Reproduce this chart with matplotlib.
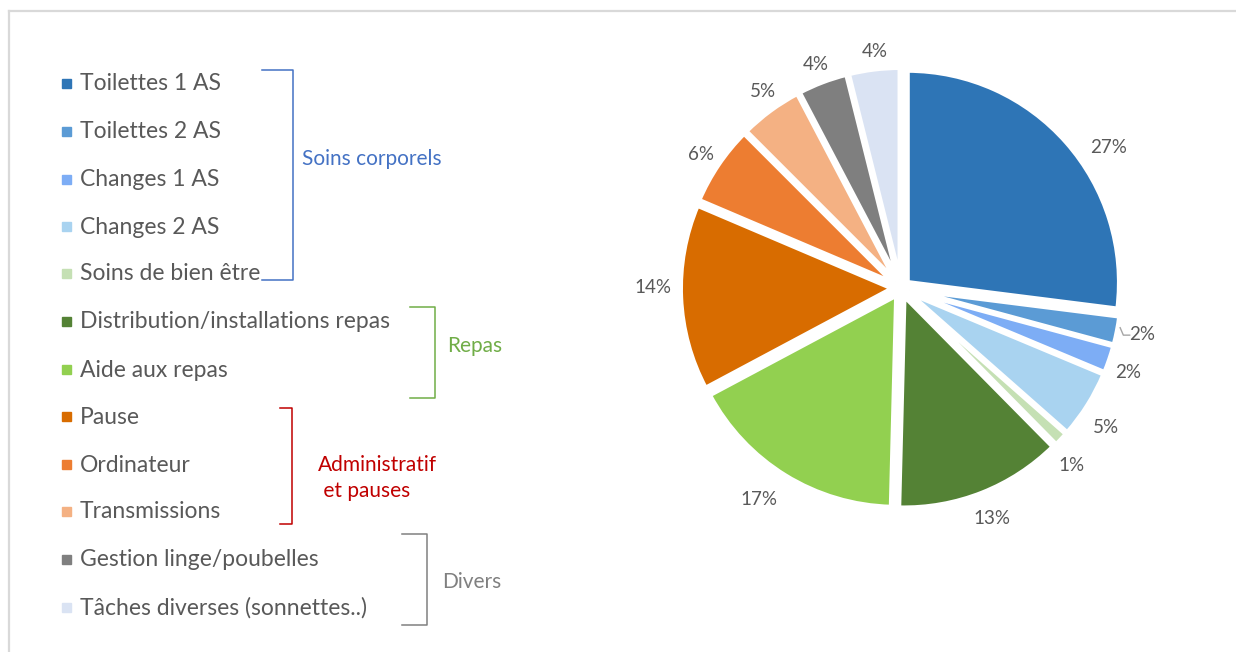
import numpy as np
import matplotlib
matplotlib.use("Agg")
import matplotlib.pyplot as plt
from matplotlib.lines import Line2D

plt.rcParams['font.family'] = ['Lato', 'DejaVu Sans']

# Data
categories = ["Toilettes 1 AS", "Toilettes 2 AS", "Changes 1 AS", "Changes 2 AS",
              "Soins de bien être", "Distribution/installations repas", "Aide aux repas",
              "Pause", "Ordinateur", "Transmissions", "Gestion linge/poubelles",
              "Tâches diverses (sonnettes..)"]
values = [27.0, 2.2, 2.1, 5.2, 1.1, 12.8, 16.8, 14.2, 6.1, 4.8, 3.8, 3.9]
colors = ["#2E75B6", "#5B9BD5", "#7DADF5", "#A9D3F0", "#C5E0B4", "#548235",
          "#92D050", "#D86C00", "#ED7D31", "#F4B183", "#7F7F7F", "#DAE3F3"]

groups = ["Soins corporels", "Repas", "Administratif\n et pauses", "Divers"]
group_colors = ["#4472C4", "#70AD47", "#C00000", "#808080"]

W, H = 1236, 652
fig = plt.figure(figsize=(W / 100, H / 100), dpi=100)

def fx(x):
    return x / W

def fy(y):
    return 1 - y / H

# light frame
fig.add_artist(Line2D([fx(9), fx(9)], [fy(11), fy(652)], color="#D9D9D9", lw=1.6))
fig.add_artist(Line2D([fx(9), fx(1236)], [fy(11), fy(11)], color="#D9D9D9", lw=1.6))

# Pie
cx, cy, half, rad = 901, 288, 265, 220
ax = fig.add_axes([fx(cx - half), fy(cy + half), 2 * half / W, 2 * half / H])
lim = half / rad
ax.set_xlim(-lim, lim)
ax.set_ylim(-lim, lim)
ax.set_aspect("equal")
ax.axis("off")

exp = 0.04
wedges, _ = ax.pie(values, colors=colors, startangle=90, counterclock=False,
                   explode=[exp] * len(values), radius=1,
                   wedgeprops=dict(edgecolor="white", linewidth=3.5))

# small nudges (pixels) to match where the labels sit
nudge = {0: (22, -24), 1: (-2, 2), 2: (-8, -4), 3: (-5, -8), 4: (-10, -7),
         6: (-12, 0), 7: (0, 12), 8: (6, -5), 9: (9, -3), 10: (3, -9), 11: (4, -10)}
total = sum(values)
cum = 0
for i, v in enumerate(values):
    mid = 90 - (cum + v / 2) / total * 360
    cum += v
    a = np.deg2rad(mid)
    r = 1.13 + exp
    dx, dy = nudge.get(i, (0, 0))
    x, y = r * np.cos(a) + dx / rad, r * np.sin(a) + dy / rad
    ax.text(x, y, f"{round(v)}%", ha="center", va="center", fontsize=13.5, color="#595959")
    if i == 1:
        ax.plot([x - 0.105, x - 0.09, x - 0.06], [y + 0.03, y - 0.005, y - 0.005],
                color="#A6A6A6", lw=1)

# Legend
rows_y = [83, 131, 179, 226, 273, 321, 369, 416, 464, 511, 559, 607]
for name, col, ry in zip(categories, colors, rows_y):
    fig.patches.append(plt.Rectangle((fx(62), fy(ry + 5)), 9 / W, 9 / H,
                                     transform=fig.transFigure, color=col))
    fig.text(fx(80), fy(ry + 1), name, fontsize=16.5, color="#595959", va="center")

# Brackets
brackets = [(262, 293, 70, 280), (410, 435, 307, 398), (280, 292, 408, 524), (402, 427, 534, 625)]
label_pos = [(302, 159), (447, 346), (318, 478), (442, 582)]
for (x0, x1, t, b), g, gc, (lx, ly) in zip(brackets, groups, group_colors, label_pos):
    fig.add_artist(Line2D([fx(x0), fx(x1), fx(x1), fx(x0)], [fy(t), fy(t), fy(b), fy(b)],
                          color=gc, lw=1.1))
    fig.text(fx(lx), fy(ly), g, fontsize=15, color=gc, va="center", linespacing=1.35)

fig.savefig("out.png", dpi=100, facecolor="white")
